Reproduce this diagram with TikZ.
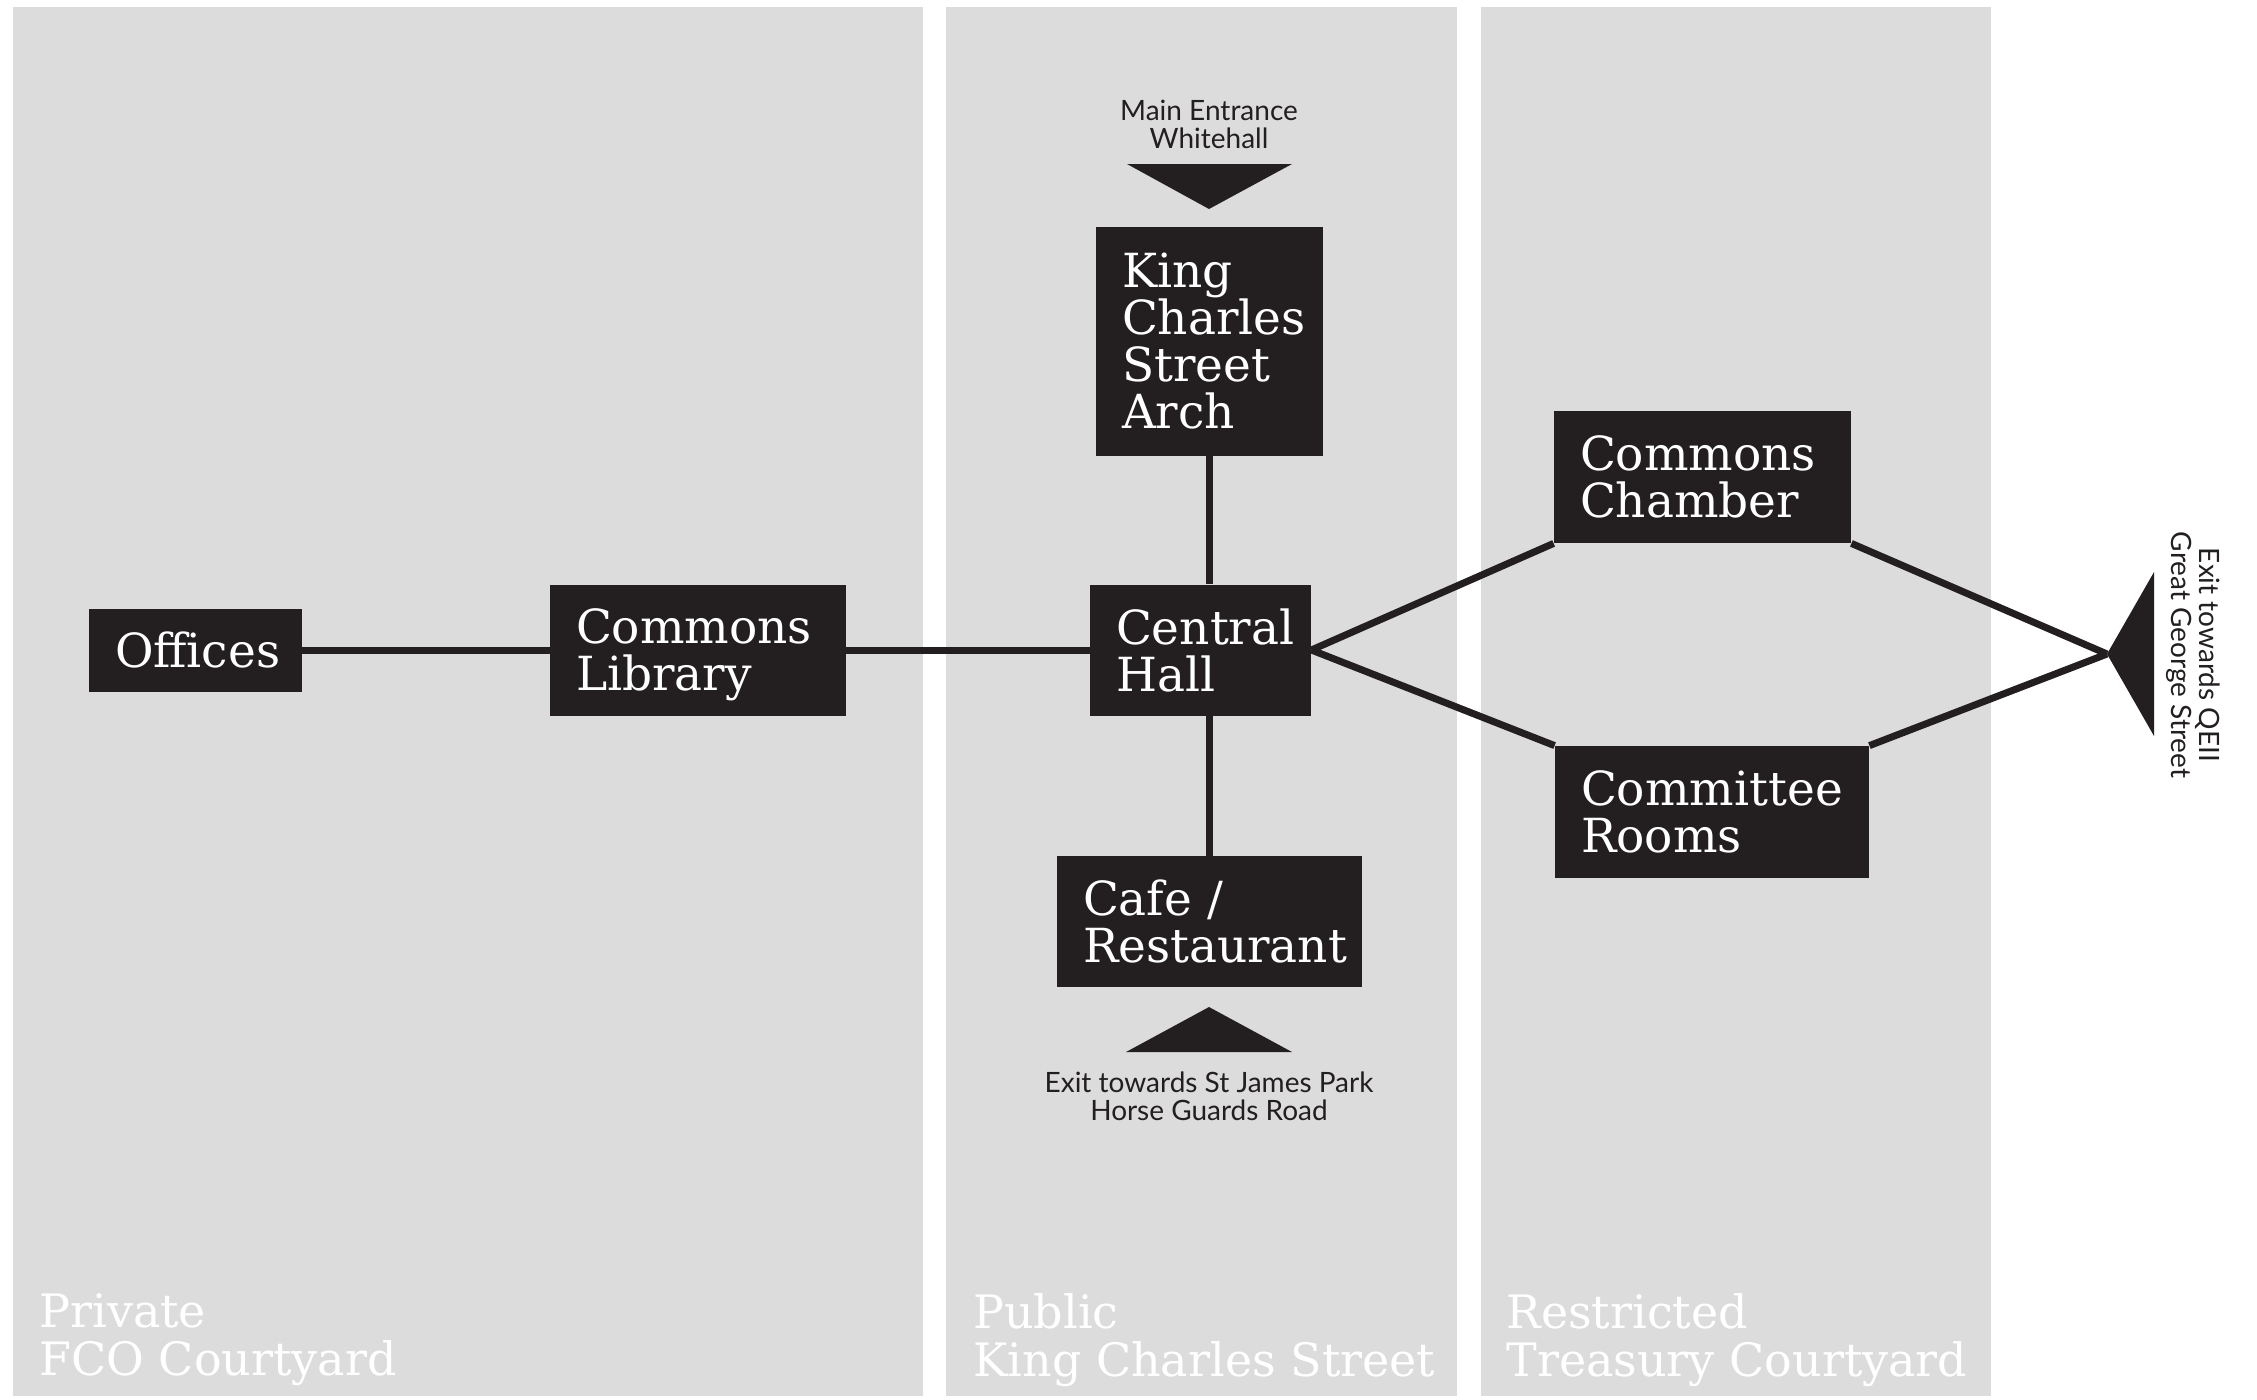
\documentclass[tikz,border=0pt]{standalone}
\usepackage{fontspec}
\setmainfont{DejaVu Serif}
\newfontfamily\signfont{Lato}
\definecolor{ink}{HTML}{231F20}
\definecolor{zone}{HTML}{DCDCDC}
\pgfdeclarelayer{zones}
\pgfdeclarelayer{links}
\pgfsetlayers{zones,links,main}
\hyphenpenalty=10000
\exhyphenpenalty=10000
\begin{document}
\begin{tikzpicture}[x=0.5pt,y=-0.5pt,
  room/.style={fill=ink, text=white, inner ysep=0pt, inner xsep=13pt,
    font=\fontsize{23.5}{23.5}\selectfont, align=left},
  zonelabel/.style={text=white, inner sep=0pt, anchor=north west, align=left,
    font=\fontsize{23}{24}\selectfont},
  sign/.style={text=ink, inner sep=0pt, align=center,
    font=\signfont\fontsize{14}{14}\selectfont},
  link/.style={draw=ink, line width=3.5pt},
  marker/.style={fill=ink}]
\useasboundingbox (0,0) rectangle (2257,1399);

% courtyard zones
\begin{pgfonlayer}{zones}
  \fill[zone] (13,7) rectangle (923,1396);
  \fill[zone] (946,7) rectangle (1457,1396);
  \fill[zone] (1481,7) rectangle (1991,1396);
\end{pgfonlayer}
\node[zonelabel] (zfco) at (39,1293) {Private\\FCO Courtyard};
\node[zonelabel] (zkcs) at (973,1293) {Public\\King Charles Street};
\node[zonelabel] (ztre) at (1506,1293) {Restricted\\Treasury Courtyard};

% rooms (descenders on a last line are smashed so the text sits centred)
\node[room, text width=80.5pt,  minimum height=41.5pt]  (offices)   at (195.5,650)   {Offices};
\node[room, text width=122pt,   minimum height=65.5pt]  (library)   at (698,650)     {Commons\\Librar\smash{y}};
\node[room, text width=84.5pt,  minimum height=65.5pt]  (central)   at (1200.5,650)  {Central\\Hall};
\node[room, text width=87.5pt,  minimum height=114.5pt] (arch)      at (1209.5,341.5){King\\Charles\\Street\\Arch};
\node[room, text width=126.5pt, minimum height=65.5pt]  (cafe)      at (1209.5,921.5){Cafe /\\Restaurant};
\node[room, text width=122.5pt, minimum height=66pt]    (chamber)   at (1702.5,477)  {Commons\\Chamber};
\node[room, text width=131pt,   minimum height=66pt]    (committee) at (1712,812)    {Committee\\Rooms};

% entrances and exits
\coordinate (whitehall) at (1209,209);
\coordinate (horseguards) at (1209,1007);
\coordinate (qeii) at (2107,654);
\fill[marker] (whitehall) -- (1127,164) -- (1292,164) -- cycle;
\fill[marker] (horseguards) -- (1126,1052) -- (1292,1052) -- cycle;
\fill[marker] (qeii) -- (2154,572) -- (2154,736) -- cycle;
\node[sign] (mainentrance) at (1209,124) {Main Entrance\\Whitehall};
\node[sign] (parkexit) at (1209,1096) {Exit towards St James Park\\Horse Guards Road};
\node[sign, rotate=-90] (qeiiexit) at (2193,655) {Exit towards QEII\\Great George Street};

% passages
\begin{pgfonlayer}{links}
  \draw[link] (offices.east) -- (library.west);
  \draw[link] (library.east) -- (central.west);
  \draw[link] (arch.south) -- (arch.south |- central.north);
  \draw[link] (cafe.north |- central.south) -- (cafe.north);
  \draw[link] (central.east) -- (chamber.south west);
  \draw[link] (central.east) -- (committee.north west);
  \draw[link] (chamber.south east) -- (qeii);
  \draw[link] (committee.north east) -- (qeii);
\end{pgfonlayer}
\end{tikzpicture}
\end{document}
